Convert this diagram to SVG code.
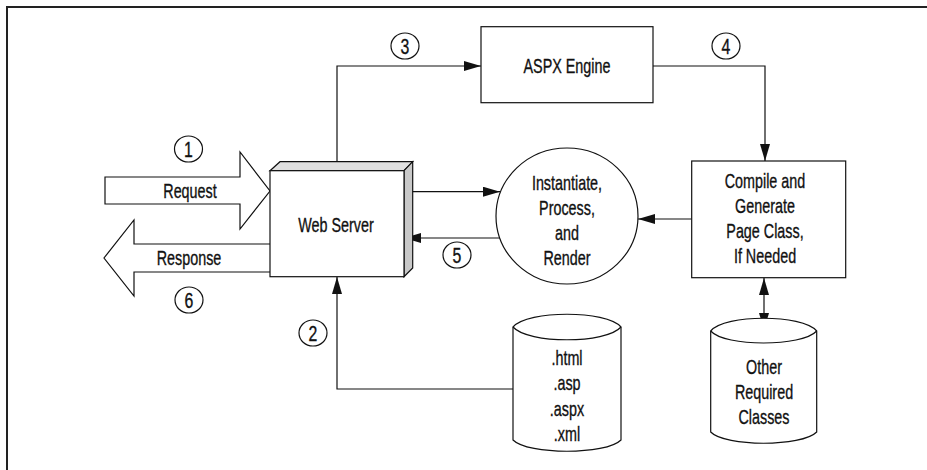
<svg xmlns="http://www.w3.org/2000/svg" width="927" height="470" viewBox="0 0 927 470">
<style>
  .t { font-family: "Liberation Sans", Arial, sans-serif; font-size: 20.5px; fill: #111; stroke: #111; stroke-width: 0.35; text-anchor: middle; }
  .n { font-family: "Liberation Sans", Arial, sans-serif; font-size: 22px; fill: #111; stroke: #111; stroke-width: 0.35; text-anchor: middle; }
  .s { fill: #fff; stroke: #111; stroke-width: 1.2; }
  .c { fill: none; stroke: #111; stroke-width: 1.2; }
</style>
<defs>
  <marker id="ah" markerUnits="userSpaceOnUse" markerWidth="18" markerHeight="10" refX="17" refY="5" orient="auto-start-reverse">
    <path d="M0,0 L17,5 L0,10 z" fill="#111"/>
  </marker>
</defs>
<rect width="927" height="470" fill="#fff"/>
<path d="M7,470 V7 H927" fill="none" stroke="#222" stroke-width="2"/>

<g id="connectors">
  <path class="c" d="M337,170.7 V66 H481" marker-end="url(#ah)"/>
  <path class="c" d="M653,66 H765 V161" marker-end="url(#ah)"/>
  <path class="c" d="M408,191.7 H500" marker-end="url(#ah)"/>
  <path class="c" d="M691.7,219 H638" marker-end="url(#ah)"/>
  <path class="c" d="M500,238 H404" marker-end="url(#ah)"/>
  <path class="c" d="M513,389 H337 V277" marker-end="url(#ah)"/>
  <path class="c" d="M764,278 V330" marker-start="url(#ah)" marker-end="url(#ah)"/>
</g>

<g id="request">
  <path class="s" d="M105,177 H240 V152 L270,191 L240,229 V204 H105 Z"/>
  <text class="t" transform="translate(190,198) scale(0.7,1)">Request</text>
</g>
<g id="response">
  <path class="s" d="M270,244 H134 V220 L104,258 L134,296 V272 H270"/>
  <text class="t" transform="translate(189,265) scale(0.7,1)">Response</text>
</g>

<g id="web-server">
  <path d="M270,170.7 L280,161.7 H412.7 L404,170.7 Z" fill="#e0e0e0" stroke="#111" stroke-width="1.2"/>
  <path d="M404,170.7 L412.7,161.7 V268 L404,276.7 Z" fill="#c8c8c8" stroke="#111" stroke-width="1.2"/>
  <rect class="s" x="270" y="170.7" width="134" height="106"/>
  <text class="t" transform="translate(336,232) scale(0.7,1)">Web Server</text>
</g>

<g id="aspx-engine">
  <rect class="s" x="481" y="26.7" width="172" height="76"/>
  <text class="t" transform="translate(567,73) scale(0.7,1)">ASPX Engine</text>
</g>

<g id="instantiate">
  <ellipse class="s" cx="567" cy="216" rx="71" ry="68"/>
  <text class="t" transform="translate(567,190) scale(0.7,1)">Instantiate,</text>
  <text class="t" transform="translate(567,215) scale(0.7,1)">Process,</text>
  <text class="t" transform="translate(567,240) scale(0.7,1)">and</text>
  <text class="t" transform="translate(567,265) scale(0.7,1)">Render</text>
</g>

<g id="compile">
  <rect class="s" x="691.7" y="161" width="154" height="116.7"/>
  <text class="t" transform="translate(765,188) scale(0.7,1)">Compile and</text>
  <text class="t" transform="translate(765,213) scale(0.7,1)">Generate</text>
  <text class="t" transform="translate(765,238) scale(0.7,1)">Page Class,</text>
  <text class="t" transform="translate(765,263) scale(0.7,1)">If Needed</text>
</g>

<g id="files">
  <path class="s" d="M513,327 C528,310 606,310 621,327 V440 C606,455 528,455 513,440 Z"/>
  <path class="c" d="M513,327 C528,344 606,344 621,327"/>
  <text class="t" transform="translate(567,365) scale(0.7,1)">.html</text>
  <text class="t" transform="translate(567,390) scale(0.7,1)">.asp</text>
  <text class="t" transform="translate(567,416) scale(0.7,1)">.aspx</text>
  <text class="t" transform="translate(567,441) scale(0.7,1)">.xml</text>
</g>

<g id="other-classes">
  <path class="s" d="M710.7,331 C725,314 802,314 816.7,331 V432 C802,447 725,447 710.7,432 Z"/>
  <path class="c" d="M710.7,331 C725,347 802,347 816.7,331"/>
  <text class="t" transform="translate(764,374) scale(0.7,1)">Other</text>
  <text class="t" transform="translate(764,399) scale(0.7,1)">Required</text>
  <text class="t" transform="translate(764,424) scale(0.7,1)">Classes</text>
</g>

<g id="step-1"><ellipse class="s" cx="188.5" cy="149" rx="14" ry="13"/><text class="n" transform="translate(188.5,157) scale(0.72,1)">1</text></g>
<g id="step-2"><ellipse class="s" cx="313" cy="333" rx="14" ry="13"/><text class="n" transform="translate(313,341) scale(0.72,1)">2</text></g>
<g id="step-3"><ellipse class="s" cx="405" cy="46" rx="14" ry="13"/><text class="n" transform="translate(405,54) scale(0.72,1)">3</text></g>
<g id="step-4"><ellipse class="s" cx="726" cy="46" rx="14" ry="13"/><text class="n" transform="translate(726,54) scale(0.72,1)">4</text></g>
<g id="step-5"><ellipse class="s" cx="457" cy="255" rx="14" ry="13"/><text class="n" transform="translate(457,263) scale(0.72,1)">5</text></g>
<g id="step-6"><ellipse class="s" cx="189" cy="300" rx="14" ry="13"/><text class="n" transform="translate(189,308) scale(0.72,1)">6</text></g>
</svg>
